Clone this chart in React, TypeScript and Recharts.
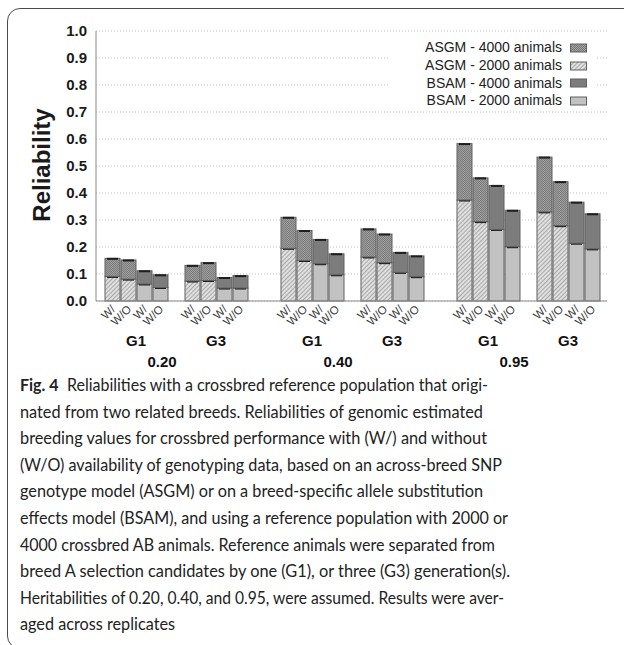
import React from 'react'
import { BarChart, Bar, XAxis, YAxis, CartesianGrid, Legend } from 'recharts'

// heritability > generation > method > availability
const heritabilities = ['0.20', '0.40', '0.95']
const generations = ['G1', 'G3']
const methods = ['ASGM', 'BSAM']
const availability = ['W/', 'W/O']

// order: (h, g, availability)
const asgm2000 = [0.091, 0.081, 0.074, 0.076, 0.195, 0.15, 0.163, 0.142, 0.374, 0.294, 0.33, 0.279]
const asgm4000 = [0.158, 0.152, 0.132, 0.142, 0.31, 0.261, 0.267, 0.248, 0.583, 0.456, 0.533, 0.442]
const bsam2000 = [0.063, 0.05, 0.048, 0.048, 0.138, 0.097, 0.106, 0.09, 0.265, 0.201, 0.214, 0.193]
const bsam4000 = [0.112, 0.097, 0.087, 0.094, 0.228, 0.175, 0.18, 0.167, 0.428, 0.336, 0.366, 0.323]

const yTicks = [0, 0.1, 0.2, 0.3, 0.4, 0.5, 0.6, 0.7, 0.8, 0.9, 1.0]

const legendItems = [
  { label: 'ASGM - 4000 animals', fill: 'url(#check)' },
  { label: 'ASGM - 2000 animals', fill: 'url(#hatch)' },
  { label: 'BSAM - 4000 animals', fill: '#7c7c7c' },
  { label: 'BSAM - 2000 animals', fill: '#c2c2c2' },
]

const captionLines = [
  'Reliabilities with a crossbred reference population that origi-',
  'nated from two related breeds. Reliabilities of genomic estimated',
  'breeding values for crossbred performance with (W/) and without',
  '(W/O) availability of genotyping data, based on an across-breed SNP',
  'genotype model (ASGM) or on a breed-specific allele substitution',
  'effects model (BSAM), and using a reference population with 2000 or',
  '4000 crossbred AB animals. Reference animals were separated from',
  'breed A selection candidates by one (G1), or three (G3) generation(s).',
  'Heritabilities of 0.20, 0.40, and 0.95, were assumed. Results were aver-',
  'aged across replicates',
]
const captionWidths = [468, 463, 467, 482, 463, 488, 475, 490, 484, 155]

type Slot = {
  key: string
  label: string
  method?: string
  low?: number
  high?: number
  group?: string
  heritability?: string
}

const slots: Slot[] = []
heritabilities.forEach((h, hi) => {
  generations.forEach((g, gi) => {
    methods.forEach((m, mi) => {
      availability.forEach((a, ai) => {
        const idx = (hi * 2 + gi) * 2 + ai
        const lo = mi === 0 ? asgm2000[idx] : bsam2000[idx]
        const hiVal = mi === 0 ? asgm4000[idx] : bsam4000[idx]
        slots.push({
          key: `${h}-${g}-${m}-${a}`,
          label: a,
          method: m,
          low: lo,
          high: +(hiVal - lo).toFixed(3),
          group: mi === 0 && ai === 1 ? g : undefined,
        })
      })
    })
    if (gi === 0) slots.push({ key: `gap-${h}-a`, label: '', heritability: h })
    else if (hi < heritabilities.length - 1) {
      slots.push({ key: `gap-${h}-b`, label: '' })
      slots.push({ key: `gap-${h}-c`, label: '' })
    }
  })
})

const SLOT = 16

function SlotTick(props: any) {
  const { x, y, index } = props
  const s = slots[index]
  if (!s) return null
  const ax = x + 4
  const ay = y + 9
  return (
    <g>
      {s.label && (
        <text
          x={ax}
          y={ay}
          transform={`rotate(-45 ${ax} ${ay})`}
          textAnchor="end"
          fontSize={11.5}
          fill="#3a3a3a"
        >
          {s.label}
        </text>
      )}
      {s.group && (
        <text x={x + SLOT / 2} y={y + 45} textAnchor="middle" fontSize={15} fontWeight="bold" fill="#111">
          {s.group}
        </text>
      )}
      {s.heritability && (
        <text x={x - 14} y={y + 66} textAnchor="middle" fontSize={15} fontWeight="bold" fill="#111">
          {s.heritability}
        </text>
      )}
    </g>
  )
}

function makeShape(tier: 'low' | 'high') {
  return (props: any) => {
    const { x, y, width, height, payload } = props
    if (!height || height <= 0) return <g />
    const asgm = payload.method === 'ASGM'
    const fill = tier === 'low' ? (asgm ? 'url(#hatch)' : '#c2c2c2') : asgm ? 'url(#check)' : '#7c7c7c'
    return (
      <g>
        <rect x={x} y={y} width={width} height={height} fill={fill} stroke="#606060" strokeWidth={1} />
        <line x1={x + 2} x2={x + width - 2} y1={y + 0.5} y2={y + 0.5} stroke="#1e1e1e" strokeWidth={2} />
      </g>
    )
  }
}

function YLabel() {
  return (
    <text
      x={41}
      y={165}
      transform="rotate(-90 41 165)"
      textAnchor="middle"
      dominantBaseline="central"
      fontSize={24}
      fontWeight="bold"
      fill="#1a1a1a"
    >
      Reliability
    </text>
  )
}

function LegendBox() {
  return (
    <div
      style={{
        background: '#fff',
        width: 207,
        height: 72,
        paddingTop: 3,
        fontSize: 14,
        color: '#222',
        boxSizing: 'border-box',
      }}
    >
      {legendItems.map((it) => (
        <div key={it.label} style={{ display: 'flex', justifyContent: 'flex-end', alignItems: 'center', height: 17.7 }}>
          <span style={{ lineHeight: '17px' }}>{it.label}</span>
          <svg width={27} height={10} style={{ marginLeft: 8 }}>
            <rect x={0.5} y={1} width={16} height={8} fill={it.fill} stroke="#606060" />
          </svg>
        </div>
      ))}
    </div>
  )
}

export default function App() {
  return (
    <div
      style={{
        position: 'fixed',
        left: 0,
        top: 0,
        width: 624,
        height: 645,
        overflow: 'hidden',
        background: '#fff',
        fontFamily: '"Liberation Sans", Arial, sans-serif',
      }}
    >
      <svg width={0} height={0} style={{ position: 'absolute' }}>
        <defs>
          <pattern id="hatch" width={3} height={3} patternUnits="userSpaceOnUse" patternTransform="rotate(45)">
            <rect width={3} height={3} fill="#e0e0e0" />
            <line x1={0.5} y1={0} x2={0.5} y2={3} stroke="#a6a6a6" strokeWidth={1} />
          </pattern>
          <pattern id="check" width={2} height={2} patternUnits="userSpaceOnUse">
            <rect width={2} height={2} fill="#a0a0a0" />
            <rect width={1} height={1} fill="#7a7a7a" />
            <rect x={1} y={1} width={1} height={1} fill="#7a7a7a" />
          </pattern>
        </defs>
      </svg>

      <div
        style={{
          position: 'absolute',
          left: 7,
          top: 8,
          width: 700,
          height: 641,
          border: '1.5px solid #4a4a4a',
          borderRadius: 13,
          boxSizing: 'border-box',
        }}
      />

      <div style={{ position: 'absolute', left: 0, top: 0 }}>
        <BarChart
          width={624}
          height={380}
          data={slots}
          margin={{ top: 31, right: 17, left: 36, bottom: 0 }}
        >
          <CartesianGrid vertical={false} stroke="#bdbdbd" strokeDasharray="1 2" />
          <XAxis
            dataKey="key"
            height={79}
            interval={0}
            tickLine={false}
            tickSize={0}
            tickMargin={0}
            axisLine={{ stroke: '#8a8a8a' }}
            padding={{ left: 8, right: 7 }}
            tick={<SlotTick />}
          />
          <XAxis xAxisId="top" dataKey="key" orientation="top" height={0} tick={false} tickLine={false} axisLine={{ stroke: '#8a8a8a' }} />
          <YAxis
            domain={[0, 1]}
            ticks={yTicks}
            width={60}
            tickLine={false}
            tickSize={0}
            tickMargin={9}
            interval={0}
            axisLine={{ stroke: '#8a8a8a' }}
            tickFormatter={(v: number) => v.toFixed(1)}
            tick={{ fontSize: 15, fontWeight: 'bold', fill: '#1a1a1a' }}
            label={<YLabel />}
          />
          <YAxis
            yAxisId="right"
            orientation="right"
            domain={[0, 1]}
            ticks={yTicks}
            width={0}
            mirror
            tickSize={9}
            tick={() => <g />}
            tickLine={{ stroke: '#8a8a8a' }}
            axisLine={{ stroke: '#8a8a8a' }}
          />
          <Legend
            layout="vertical"
            align="center"
            verticalAlign="middle"
            wrapperStyle={{ left: 390, top: 36, width: 207 }}
            content={() => <LegendBox />}
          />
          <Bar dataKey="low" stackId="s" barSize={15} isAnimationActive={false} shape={makeShape('low')} />
          <Bar dataKey="high" stackId="s" barSize={15} isAnimationActive={false} shape={makeShape('high')} />
        </BarChart>
      </div>

      <svg width={624} height={275} style={{ position: 'absolute', left: 0, top: 370 }}>
        {captionLines.map((line, i) => (
          <text
            key={i}
            x={20}
            y={21 + i * 26.6}
            fontSize={17}
            fontFamily="Lato, 'Open Sans', sans-serif"
            fill="#222"
            textLength={captionWidths[i]}
            lengthAdjust="spacingAndGlyphs"
          >
            {i === 0 && <tspan fontWeight="bold">Fig. 4</tspan>}
            {i === 0 ? <tspan dx={9}>{line}</tspan> : line}
          </text>
        ))}
      </svg>
    </div>
  )
}
